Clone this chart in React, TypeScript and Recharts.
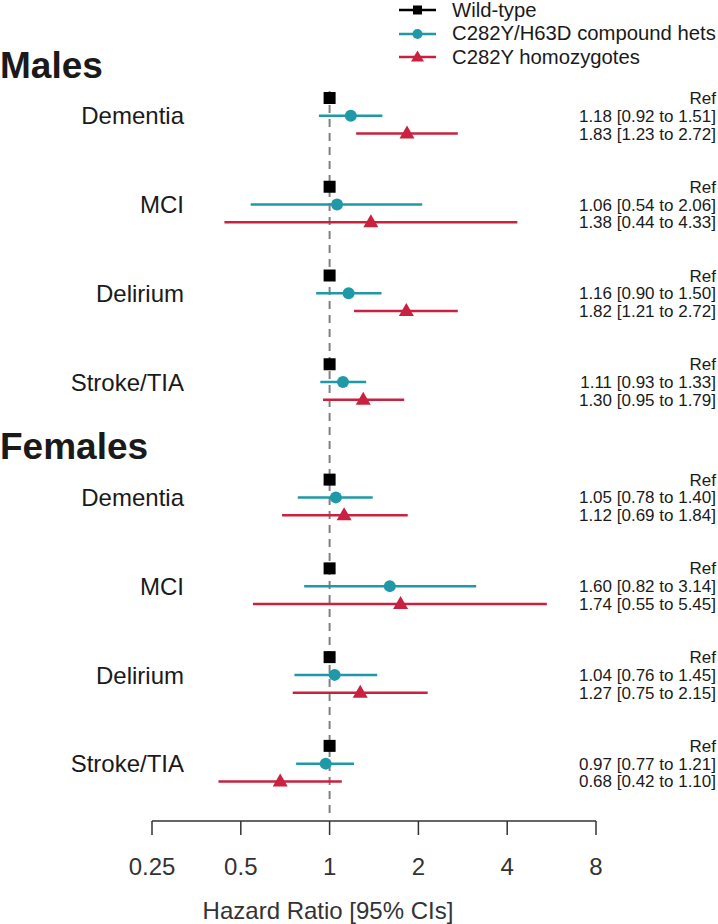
import React from 'react';
import {
  ScatterChart,
  Scatter,
  XAxis,
  YAxis,
  ErrorBar,
  ReferenceLine,
  Legend,
  Label,
} from 'recharts';

// ---- data (males first, then females; outcomes in the same order) ----
const sexes = ['Males', 'Females'];
const outcomes = ['Dementia', 'MCI', 'Delirium', 'Stroke/TIA'];
const seriesNames = ['Wild-type', 'C282Y/H63D compound hets', 'C282Y homozygotes'];
const xTicks = [0.25, 0.5, 1, 2, 4, 8];

const wildHR = [1, 1, 1, 1, 1, 1, 1, 1];
const hetsHR = [1.18, 1.06, 1.16, 1.11, 1.05, 1.6, 1.04, 0.97];
const hetsLo = [0.92, 0.54, 0.9, 0.93, 0.78, 0.82, 0.76, 0.77];
const hetsHi = [1.51, 2.06, 1.5, 1.33, 1.4, 3.14, 1.45, 1.21];
const homoHR = [1.83, 1.38, 1.82, 1.3, 1.12, 1.74, 1.27, 0.68];
const homoLo = [1.23, 0.44, 1.21, 0.95, 0.69, 0.55, 0.75, 0.42];
const homoHi = [2.72, 4.33, 2.72, 1.79, 1.84, 5.45, 2.15, 1.1];

// ---- layout ----
const W = 718;
const H = 924;
const ROW_PX = 17.75;
const FIRST_ROW_PX = 98;
const AXIS_PX = 821;
const LEFT_W = 152;
const RIGHT_W = 122;
const GROUP_STEP = 5;
const SEX_STEP = 21.5;
const HEADING_OFFSET = -1.9;
const Y_TOP = -FIRST_ROW_PX / ROW_PX;
const Y_BOTTOM = (AXIS_PX - FIRST_ROW_PX) / ROW_PX;

const BLACK = '#000000';
const TEAL = '#1f99a7';
const RED = '#c9213f';
const FONT = '"Liberation Sans", Arial, Helvetica, sans-serif';

const rowOf = (i: number, k: number) =>
  Math.floor(i / outcomes.length) * SEX_STEP + (i % outcomes.length) * GROUP_STEP + k;

const fmt = (hr: number, lo: number, hi: number) =>
  `${hr.toFixed(2)} [${lo.toFixed(2)} to ${hi.toFixed(2)}]`;

const nRows = sexes.length * outcomes.length;
const idx = Array.from({ length: nRows }, (_, i) => i);

const wildData = idx.map((i) => ({ x: wildHR[i], y: rowOf(i, 0) }));
const hetsData = idx.map((i) => ({
  x: hetsHR[i],
  y: rowOf(i, 1),
  err: [hetsHR[i] - hetsLo[i], hetsHi[i] - hetsHR[i]],
}));
const homoData = idx.map((i) => ({
  x: homoHR[i],
  y: rowOf(i, 2),
  err: [homoHR[i] - homoLo[i], homoHi[i] - homoHR[i]],
}));

// left axis: sex headings + outcome names
const leftLabels = new Map<number, { text: string; heading: boolean }>();
sexes.forEach((s, si) => {
  leftLabels.set(si * SEX_STEP + HEADING_OFFSET, { text: s, heading: true });
});
idx.forEach((i) => leftLabels.set(rowOf(i, 1), { text: outcomes[i % outcomes.length], heading: false }));
const leftTicks = Array.from(leftLabels.keys()).sort((a, b) => a - b);

// right axis: estimates
const rightLabels = new Map<number, string>();
idx.forEach((i) => {
  rightLabels.set(rowOf(i, 0), 'Ref');
  rightLabels.set(rowOf(i, 1), fmt(hetsHR[i], hetsLo[i], hetsHi[i]));
  rightLabels.set(rowOf(i, 2), fmt(homoHR[i], homoLo[i], homoHi[i]));
});
const rightTicks = Array.from(rightLabels.keys()).sort((a, b) => a - b);

const LeftTick = (props: any) => {
  const { y, payload } = props;
  const lab = leftLabels.get(payload.value);
  if (!lab) return <g />;
  if (lab.heading) {
    return (
      <text x={0} y={y} dy="0.36em" textAnchor="start" fontSize={37} fontWeight="bold" fill="#1a1a1a">
        {lab.text}
      </text>
    );
  }
  return (
    <text x={184} y={y} dy="0.36em" textAnchor="end" fontSize={24} fill="#1a1a1a">
      {lab.text}
    </text>
  );
};

const RightTick = (props: any) => {
  const { y, payload } = props;
  return (
    <text x={W - 2} y={y} dy="0.36em" textAnchor="end" fontSize={17} fill="#1a1a1a">
      {rightLabels.get(payload.value) ?? ''}
    </text>
  );
};

const SquareShape = (p: any) => <rect x={p.cx - 6} y={p.cy - 6} width={12} height={12} fill={BLACK} />;
const CircleShape = (p: any) => <circle cx={p.cx} cy={p.cy} r={6} fill={TEAL} />;
const TriangleShape = (p: any) => (
  <polygon
    points={`${p.cx},${p.cy - 8} ${p.cx + 7.5},${p.cy + 5} ${p.cx - 7.5},${p.cy + 5}`}
    fill={RED}
  />
);

const seriesColors = [BLACK, TEAL, RED];

const LegendIcon = ({ k }: { k: number }) => {
  const c = seriesColors[k];
  return (
    <svg width={53} height={22} style={{ flex: 'none' }}>
      <line x1={0} x2={37} y1={11} y2={11} stroke={c} strokeWidth={2.5} />
      {k === 0 && <rect x={14} y={6.5} width={9} height={9} fill={c} />}
      {k === 1 && <circle cx={18.5} cy={11} r={5} fill={c} />}
      {k === 2 && <polygon points="18.5,4.5 25,15.5 12,15.5" fill={c} />}
    </svg>
  );
};

const LegendContent = () => (
  <div style={{ fontFamily: FONT, fontSize: 20.3, color: '#1a1a1a', whiteSpace: 'nowrap' }}>
    {seriesNames.map((n, k) => (
      <div key={n} style={{ display: 'flex', alignItems: 'center', height: 23.5 }}>
        <LegendIcon k={k} />
        <span>{n}</span>
      </div>
    ))}
  </div>
);

export default function App() {
  return (
    <div style={{ position: 'absolute', left: 0, top: 0, width: W, height: H, background: '#fff', fontFamily: FONT }}>
      <ScatterChart width={W} height={H} margin={{ top: 0, right: 0, bottom: 0, left: 0 }}>
        <XAxis
          type="number"
          dataKey="x"
          scale="log"
          domain={[0.25, 8]}
          ticks={xTicks}
          allowDataOverflow
          interval={0}
          height={H - AXIS_PX}
          tickSize={14}
          tickMargin={23}
          axisLine={{ stroke: '#333', strokeWidth: 1.5 }}
          tickLine={{ stroke: '#333', strokeWidth: 1.5 }}
          tick={{ fill: '#333', fontSize: 24 }}
          tickFormatter={(v: number) => String(v)}
        >
          <Label value="Hazard Ratio [95% CIs]" position="insideBottom" offset={5} dx={-46} fill="#333" fontSize={24} />
        </XAxis>
        <YAxis
          yAxisId="left"
          type="number"
          dataKey="y"
          domain={[Y_TOP, Y_BOTTOM]}
          reversed
          allowDataOverflow
          width={LEFT_W}
          ticks={leftTicks}
          interval={0}
          axisLine={false}
          tickLine={false}
          tick={(p: any) => <LeftTick {...p} />}
        />
        <YAxis
          yAxisId="right"
          orientation="right"
          type="number"
          dataKey="y"
          domain={[Y_TOP, Y_BOTTOM]}
          reversed
          allowDataOverflow
          width={RIGHT_W}
          ticks={rightTicks}
          interval={0}
          axisLine={false}
          tickLine={false}
          tick={(p: any) => <RightTick {...p} />}
        />
        <ReferenceLine
          yAxisId="left"
          segment={[
            { x: 1, y: -0.4 },
            { x: 1, y: rowOf(nRows - 1, 2) + 1.8 },
          ]}
          stroke="#808080"
          strokeWidth={2}
          strokeDasharray="8 6"
        />
        <Legend
          layout="vertical"
          verticalAlign="middle"
          align="center"
          content={() => <LegendContent />}
          wrapperStyle={{ top: -1.75, left: 399, width: 319, height: 72 }}
        />
        <Scatter yAxisId="left" name={seriesNames[1]} data={hetsData} shape={CircleShape} isAnimationActive={false}>
          <ErrorBar dataKey="err" direction="x" width={0} stroke={TEAL} strokeWidth={2.5} isAnimationActive={false} />
        </Scatter>
        <Scatter yAxisId="left" name={seriesNames[2]} data={homoData} shape={TriangleShape} isAnimationActive={false}>
          <ErrorBar dataKey="err" direction="x" width={0} stroke={RED} strokeWidth={2.5} isAnimationActive={false} />
        </Scatter>
        <Scatter yAxisId="left" name={seriesNames[0]} data={wildData} shape={SquareShape} isAnimationActive={false} />
      </ScatterChart>
    </div>
  );
}
